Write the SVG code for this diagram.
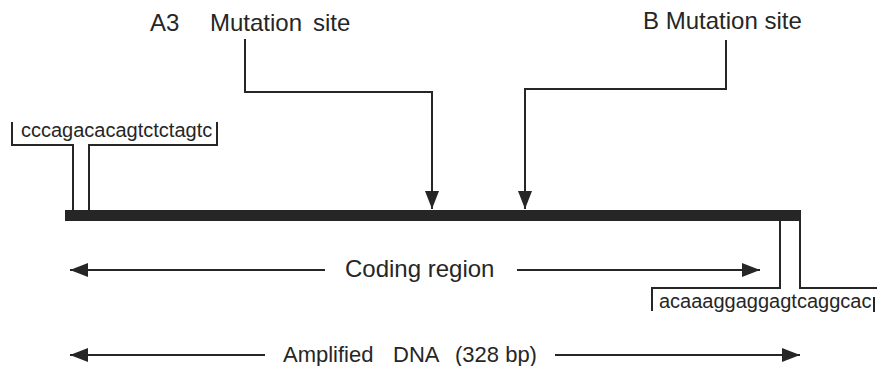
<svg xmlns="http://www.w3.org/2000/svg" width="877" height="366" viewBox="0 0 877 366">
  <style>
    .lbl { font-family: "Liberation Sans", Arial, sans-serif; fill: #262626; }
    .big { font-size: 24px; }
    .mid { font-size: 22px; }
    .seq { font-size: 20px; }
    .ln { fill: none; stroke: #262626; stroke-width: 2; }
  </style>
  <defs>
    <marker id="head" viewBox="0 0 18 14" refX="18" refY="7" markerWidth="18" markerHeight="14" markerUnits="userSpaceOnUse" orient="auto-start-reverse">
      <path d="M0,0 L18,7 L0,14 z" fill="#262626"/>
    </marker>
  </defs>
  <rect width="877" height="366" fill="#ffffff"/>

  <!-- amplified DNA strand -->
  <g id="dna-bar">
    <rect x="65" y="210" width="736" height="11" fill="#262626"/>
  </g>

  <g id="label-a3">
    <text class="lbl big" x="150" y="31">A3</text>
    <text class="lbl big" x="210" y="31">Mutation</text>
    <text class="lbl big" x="313" y="31">site</text>
  </g>

  <g id="label-b">
    <text class="lbl big" x="643" y="29">B Mutation site</text>
  </g>

  <g id="primer-forward">
    <text class="lbl seq" x="21" y="137">cccagacacagtctctagtc</text>
  </g>

  <g id="primer-reverse">
    <text class="lbl seq" x="659" y="308">acaaaggaggagtcaggcac</text>
  </g>

  <g id="label-coding">
    <text class="lbl big" x="345" y="277">Coding region</text>
  </g>

  <g id="label-amplified">
    <text class="lbl mid" x="283" y="362">Amplified</text>
    <text class="lbl mid" x="393" y="362">DNA</text>
    <text class="lbl mid" x="455" y="362">(328 bp)</text>
  </g>

  <g id="connectors">
    <!-- mutation site pointers -->
    <polyline class="ln" points="245,39 245,92 432,92 432,209" marker-end="url(#head)"/>
    <polyline class="ln" points="726,40 726,89 525,89 525,209" marker-end="url(#head)"/>
    <!-- forward primer bracket -->
    <polyline class="ln" points="12,122 12,145 73,145 73,210"/>
    <polyline class="ln" points="89,210 89,145 217,145 217,122"/>
    <!-- reverse primer bracket -->
    <polyline class="ln" points="652,311 652,288 780,288 780,221"/>
    <polyline class="ln" points="800,221 800,288 877,288"/>
    <line class="ln" x1="874" y1="297" x2="874" y2="312"/>
    <!-- coding region span -->
    <line class="ln" x1="70" y1="270" x2="325" y2="270" marker-start="url(#head)"/>
    <line class="ln" x1="517" y1="270" x2="760" y2="270" marker-end="url(#head)"/>
    <!-- amplified span -->
    <line class="ln" x1="70" y1="355" x2="265" y2="355" marker-start="url(#head)"/>
    <line class="ln" x1="555" y1="355" x2="800" y2="355" marker-end="url(#head)"/>
  </g>
</svg>
